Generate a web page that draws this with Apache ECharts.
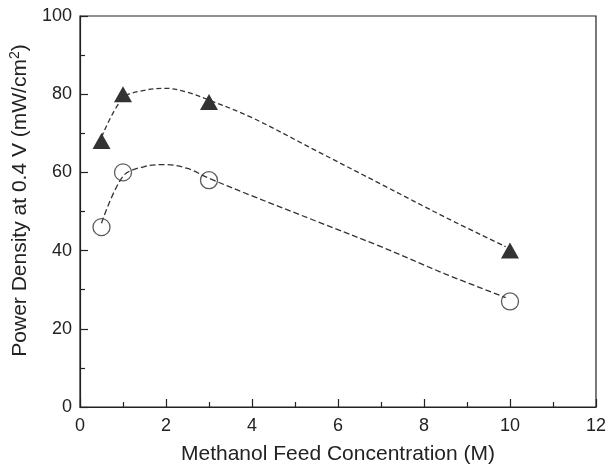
<!DOCTYPE html>
<html>
<head>
<meta charset="utf-8">
<script src="https://cdn.jsdelivr.net/npm/echarts@6/dist/echarts.min.js"></script>
<style>
  html, body { margin: 0; padding: 0; background: #fff; }
  #chart { width: 609px; height: 470px; }
</style>
</head>
<body>
<div id="chart"></div>
<script>
// Methanol feed concentration (M)
var concentration = [0.5, 1, 3, 10];
// Measured power density at 0.4 V (mW/cm2)
var filledTriangles = [68, 80, 78, 40];
var openCircles = [46, 60, 58, 27];

// Points along the dashed guide curves drawn through each set
var upperCurveX = [0.5, 1, 1.5, 2, 2.5, 3, 4, 5.5, 7, 8.5, 9.9];
var upperCurveY = [69, 79, 81, 81.5, 80.5, 78.5, 74, 65.5, 57, 48.5, 41];
var lowerCurveX = [0.5, 1, 1.5, 2, 2.5, 3, 4, 5.5, 7, 8.5, 9.9];
var lowerCurveY = [47, 59, 61.5, 62, 61, 58.5, 54, 47.5, 41, 34, 28];

var xTicks = [0, 2, 4, 6, 8, 10, 12];
var yTicks = [0, 20, 40, 60, 80, 100];

function pairs(xs, ys) {
  return xs.map(function (x, i) { return [x, ys[i]]; });
}

var FONT = 'Liberation Sans, Arial, sans-serif';
var INK = '#222';

var chart = echarts.init(document.getElementById('chart'), null, { renderer: 'canvas' });
chart.setOption({
  animation: false,
  backgroundColor: '#fff',
  grid: {
    left: 80, top: 16, right: 11, bottom: 59,
    show: true, borderColor: INK, borderWidth: 1.2, backgroundColor: 'transparent'
  },
  xAxis: {
    type: 'value',
    min: xTicks[0], max: xTicks[xTicks.length - 1], interval: 2,
    name: 'Methanol Feed Concentration (M)',
    nameLocation: 'middle', nameGap: 37,
    nameTextStyle: { fontFamily: FONT, fontSize: 21, color: INK },
    axisLine: { show: true, lineStyle: { color: INK, width: 1.2 } },
    axisTick: { show: true, inside: true, length: 8, lineStyle: { color: INK, width: 1.2 } },
    minorTick: { show: true, splitNumber: 2, length: 5, lineStyle: { color: INK, width: 1.2 } },
    axisLabel: { fontFamily: FONT, fontSize: 18, color: INK, margin: 10 },
    splitLine: { show: false }
  },
  yAxis: {
    type: 'value',
    min: yTicks[0], max: yTicks[yTicks.length - 1], interval: 20,
    name: 'Power Density at 0.4 V (mW/cm{sup|2})',
    nameLocation: 'middle', nameGap: 46,
    nameTextStyle: {
      fontFamily: FONT, fontSize: 21, color: INK, padding: [0, 0, 0, 22],
      rich: { sup: { fontFamily: FONT, fontSize: 14, color: INK, verticalAlign: 'top', padding: [0, 0, 10, 0] } }
    },
    axisLine: { show: true, lineStyle: { color: INK, width: 1.2 } },
    axisTick: { show: true, inside: true, length: 8, lineStyle: { color: INK, width: 1.2 } },
    minorTick: { show: true, splitNumber: 2, length: 5, lineStyle: { color: INK, width: 1.2 } },
    axisLabel: { fontFamily: FONT, fontSize: 18, color: INK, margin: 8 },
    splitLine: { show: false }
  },
  series: [
    {
      type: 'line', data: pairs(upperCurveX, upperCurveY), smooth: 0.35,
      showSymbol: false, silent: true,
      lineStyle: { color: '#333', width: 1.3, type: [5, 3] }
    },
    {
      type: 'line', data: pairs(lowerCurveX, lowerCurveY), smooth: 0.35,
      showSymbol: false, silent: true,
      lineStyle: { color: '#333', width: 1.3, type: [6, 3] }
    },
    {
      type: 'scatter', data: pairs(concentration, filledTriangles),
      symbol: 'triangle', symbolSize: [18, 16],
      itemStyle: { color: '#000' }
    },
    {
      type: 'scatter', data: pairs(concentration, openCircles),
      symbol: 'circle', symbolSize: 17,
      itemStyle: { color: '#fff', borderColor: '#333', borderWidth: 1.3 }
    }
  ]
});
</script>
</body>
</html>
